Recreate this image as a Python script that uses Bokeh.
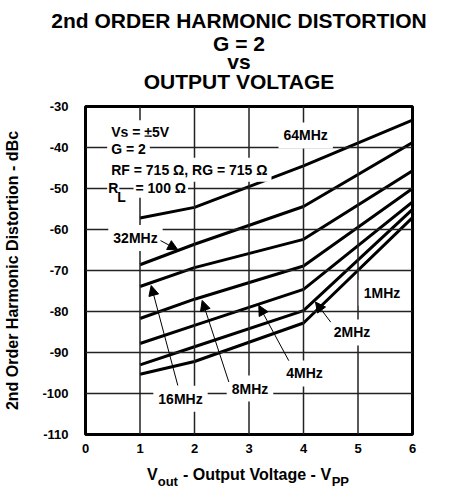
import math
from bokeh.plotting import figure
from bokeh.models import (Label, Arrow, NormalHead, FixedTicker, LinearAxis, Span)
from bokeh.embed import file_html
from bokeh.resources import INLINE

# ---- data ----
vout = [1, 2, 4, 6]
series_names = ["64MHz", "32MHz", "16MHz", "8MHz", "4MHz", "2MHz", "1MHz"]
d64 = [-57.2, -54.6, -44.5, -33.3]
d32 = [-68.6, -63.6, -54.4, -38.8]
d16 = [-73.9, -69.3, -62.4, -45.7]
d8 = [-81.7, -77.0, -68.9, -50.0]
d4 = [-87.8, -83.4, -74.6, -53.3]
d2 = [-93.0, -88.6, -79.8, -55.1]
d1 = [-95.3, -92.2, -82.8, -57.1]
series = [d64, d32, d16, d8, d4, d2, d1]

x_ticks = [0, 1, 2, 3, 4, 5, 6]
y_ticks = [-110, -100, -90, -80, -70, -60, -50, -40, -30]

title_lines = ["2nd ORDER HARMONIC DISTORTION", "G = 2", "vs", "OUTPUT VOLTAGE"]
y_label = "2nd Order Harmonic Distortion - dBc"
x_label_main = ["V", "- Output Voltage - V"]
x_label_sub = ["out", "PP"]

FONT = "Liberation Sans"

p = figure(frame_width=327, frame_height=328, x_range=(0, 6), y_range=(-110, -30),
           output_backend="svg", toolbar_location=None, title_location=None,
           min_border_left=85, min_border_top=106, min_border_right=30, min_border_bottom=50)
p.background_fill_color = "white"
p.border_fill_color = "white"
p.outline_line_color = "black"
p.outline_line_width = 3

p.xaxis.ticker = FixedTicker(ticks=x_ticks)
p.yaxis.ticker = FixedTicker(ticks=y_ticks)
p.yaxis.major_label_overrides = {t: str(t) for t in y_ticks}
p.xgrid.visible = False
p.ygrid.visible = False


def style_axis(ax, size):
    ax.axis_line_color = None
    ax.major_tick_line_color = None
    ax.minor_tick_line_color = None
    ax.major_tick_out = 0
    ax.major_tick_in = 0
    ax.minor_tick_out = 0
    ax.minor_tick_in = 0
    ax.major_label_text_font = FONT
    ax.major_label_text_font_style = "bold"
    ax.major_label_text_font_size = size
    ax.major_label_text_color = "black"


for ax in p.axis:
    style_axis(ax, "13px")
p.yaxis.major_label_standoff = 17
p.xaxis.major_label_standoff = 9
p.yaxis.axis_label = y_label
p.yaxis.axis_label_text_font = FONT
p.yaxis.axis_label_text_font_style = "bold"
p.yaxis.axis_label_text_font_size = "16px"
p.yaxis.axis_label_text_color = "black"
p.yaxis.axis_label_standoff = 18

# grid lines as spans at the inner tick positions
for gxv in x_ticks[1:-1]:
    p.add_layout(Span(location=gxv, dimension="height", line_color="#222222", line_width=1.5))
for gyv in y_ticks[1:-1]:
    p.add_layout(Span(location=gyv, dimension="width", line_color="#222222", line_width=1.5))

for ys in series:
    p.line(vout, ys, line_color="black", line_width=3)


def txt(x, y, s, size="14px", align="left", baseline="alphabetic", pad=3, bg="white"):
    p.add_layout(Label(x=x, y=y, text=s, text_align=align, text_baseline=baseline,
                       text_font=FONT, text_font_style="bold", text_font_size=size,
                       text_color="black", background_fill_color=bg, padding=pad))


# parameter block
txt(0.398, -36.27, "Vs = \u00b15V", pad=4)
txt(0.398, -40.3, "G = 2", pad=4)
txt(0.398, -45.4, "RF = 715 \u03a9, RG = 715 \u03a9", pad=4)
txt(0.398, -49.8, "R", pad=1)
txt(0.881, -49.8, "= 100 \u03a9", pad=2)
txt(0.583, -52.1, "L", pad=0, bg=None)

# curve labels
lbl_x = [4.04, 0.917, 1.743, 3.018, 4.018, 4.89, 5.44]
lbl_y = [-37.07, -62.1, -101.3, -98.8, -95.1, -85.1, -75.4]
for name, lx, ly in zip(series_names, lbl_x, lbl_y):
    txt(lx, ly, name, align="center", baseline="middle", pad=5)

# pointer arrows (tail -> tip)
arrows = [((1.376, -62.7), (1.694, -64.95)),
          ((1.694, -98.05), (1.205, -73.66)),
          ((2.63, -97.2), (2.141, -77.3)),
          ((3.73, -92.0), (3.18, -78.5)),
          ((4.50, -82.6), (4.22, -77.7))]
for (x0, y0), (x1, y1) in arrows:
    p.add_layout(Arrow(x_start=x0, y_start=y0, x_end=x1, y_end=y1, line_color="black", line_width=1,
                       end=NormalHead(size=10, fill_color="black", line_color="black", line_width=1)))

# x axis label built from two extra label-only axes (main text and subscripts)
main_pos = [1.2257, 3.1468]
sub_pos = [1.5101, 4.6752]
ax_main = LinearAxis(ticker=FixedTicker(ticks=main_pos),
                     major_label_overrides=dict(zip(main_pos, x_label_main)))
style_axis(ax_main, "16px")
ax_main.major_label_standoff = 10
ax_sub = LinearAxis(ticker=FixedTicker(ticks=sub_pos),
                    major_label_overrides=dict(zip(sub_pos, x_label_sub)))
style_axis(ax_sub, "13px")
ax_sub.major_label_standoff = -12
p.add_layout(ax_main, "below")
p.add_layout(ax_sub, "below")

# title lines as label-only axes above the plot (nearest line first)
title_x = 2.8165
title_standoff = [14, -6, -8, -3]
for s, so in zip(reversed(title_lines), title_standoff):
    ax_t = LinearAxis(ticker=FixedTicker(ticks=[title_x]), major_label_overrides={title_x: s})
    style_axis(ax_t, "21px")
    ax_t.major_label_standoff = so
    p.add_layout(ax_t, "above")

open("out.html", "w").write(file_html(p, INLINE))
